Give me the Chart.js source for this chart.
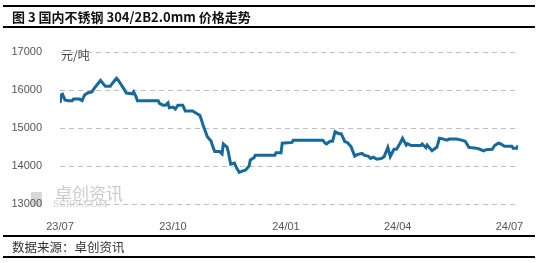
<!DOCTYPE html>
<html>
<head>
<meta charset="utf-8">
<script src="https://cdn.jsdelivr.net/npm/chart.js@4"></script>
<style>
    html, body { margin: 0; padding: 0; background: #fff; }
    #wrap { position: relative; width: 548px; height: 263px; overflow: hidden; }
    #chart { position: absolute; left: 0; top: 0; }
    .rule { position: absolute; left: 3px; width: 532px; height: 2px; background: #000; }
    .txt { position: absolute; left: 12px; white-space: nowrap; font-family: "Noto Sans CJK SC", sans-serif; }
</style>
</head>
<body>
<div id="wrap">
    <canvas id="chart" width="548" height="263"></canvas>
    <div class="rule" style="top:5px"></div>
    <div class="txt" style="top:7px; font-size:13px; font-weight:bold; color:#111;">图 3 国内不锈钢 304/2B2.0mm 价格走势</div>
    <div class="rule" style="top:26px"></div>
    <div class="rule" style="top:235px"></div>
    <div class="txt" style="top:237px; font-size:12.5px; color:#333;">数据来源：卓创资讯</div>
    <div class="rule" style="top:256px"></div>
</div>
<script>
// days since 2023-07-01
const dayOffsets = [
    0, 1, 2, 4, 7, 10, 11, 16, 18, 20, 23, 26, 28, 33, 36, 37, 41, 42, 46, 47,
    50, 52, 54, 59, 60, 62, 63, 80, 81, 84, 86, 88, 89, 92, 94, 96, 100, 102, 108, 111,
    114, 117, 120, 123, 124, 126, 130, 132, 133, 136, 137, 139, 142, 144, 146, 149, 151, 154, 155, 158,
    159, 175, 176, 180, 181, 189, 190, 214, 216, 217, 220, 222, 224, 227, 229, 232, 234, 237, 240, 242,
    246, 248, 251, 253, 255, 258, 262, 264, 267, 269, 272, 274, 277, 279, 282, 283, 286, 294, 295, 298,
    299, 303, 307, 309, 311, 315, 317, 323, 327, 330, 333, 339, 342, 345, 347, 352, 354, 357, 359, 362,
    368, 369, 372, 373
];

// 304/2B 2.0mm price, yuan/ton
const prices = [
    15660, 15870, 15890, 15740, 15720, 15720, 15760, 15760, 15720, 15870, 15930, 15950, 16050, 16250, 16130, 16100, 16100, 16150, 16310, 16280,
    16130, 16030, 15920, 15900, 15950, 15820, 15720, 15720, 15650, 15600, 15600, 15660, 15530, 15550, 15500, 15600, 15600, 15450, 15450, 15390,
    15330, 15030, 14770, 14660, 14550, 14380, 14380, 14320, 14580, 14500, 14380, 14050, 14080, 13940, 13830, 13870, 13890, 14000, 14160, 14220,
    14280, 14280, 14350, 14350, 14600, 14620, 14680, 14680, 14600, 14580, 14650, 14650, 14900, 14850, 14850, 14640, 14620, 14510, 14260, 14300,
    14330, 14280, 14260, 14200, 14230, 14180, 14200, 14250, 14490, 14250, 14440, 14440, 14600, 14730, 14550, 14590, 14540, 14540, 14580, 14480,
    14550, 14400, 14500, 14730, 14720, 14680, 14710, 14710, 14680, 14650, 14490, 14470, 14440, 14400, 14430, 14440, 14540, 14600, 14580, 14520,
    14520, 14470, 14470, 14540
];

// x-axis month ticks
const tickDays = [0, 92, 184, 275, 366];
const tickLabels = ['23/07', '23/10', '24/01', '24/04', '24/07'];

const yTicks = [13000, 14000, 15000, 16000, 17000];
const unitLabel = '元/吨';

// watermark + dashed gridlines go under the axes, unit label on top
const decorPlugin = {
    id: 'decor',
    beforeDraw(chart) {
        const ctx = chart.ctx;
        const area = chart.chartArea;
        const yScale = chart.scales.y;
        ctx.save();
        // watermark
        ctx.fillStyle = '#d8d8d8';
        ctx.fillRect(31, 192, 11, 14);
        ctx.fillStyle = '#cccccc';
        ctx.font = '17px "Noto Sans CJK SC"';
        ctx.textBaseline = 'middle';
        ctx.textAlign = 'left';
        ctx.fillText('卓创资讯', 55, 194);
        ctx.font = '9px "DejaVu Serif"';
        ctx.fillText('SCI99.COM', 53, 205);
        // dashed horizontal gridlines
        ctx.strokeStyle = '#c0c0c0';
        ctx.lineWidth = 1;
        ctx.setLineDash([5, 4]);
        yTicks.forEach(v => {
            const y = Math.round(yScale.getPixelForValue(v)) + 0.5;
            ctx.beginPath();
            ctx.moveTo(area.left, y);
            ctx.lineTo(area.right, y);
            ctx.stroke();
        });
        ctx.restore();
    },
    afterDatasetsDraw(chart) {
        const ctx = chart.ctx;
        const area = chart.chartArea;
        ctx.save();
        ctx.fillStyle = '#444';
        ctx.font = '12px "Noto Sans CJK SC"';
        ctx.textBaseline = 'middle';
        ctx.fillText(unitLabel, area.left + 1, area.top + 3);
        ctx.restore();
    }
};

const ctx = document.getElementById('chart').getContext('2d');

new Chart(ctx, {
    type: 'line',
    data: {
        datasets: [{
            data: dayOffsets.map((d, i) => ({ x: d, y: prices[i] })),
            borderColor: '#17699a',
            borderWidth: 3,
            pointRadius: 0,
            tension: 0,
            fill: false
        }]
    },
    options: {
        responsive: false,
        animation: false,
        layout: {
            padding: { left: 0, right: 30, top: 52, bottom: 0 }
        },
        plugins: {
            legend: { display: false },
            tooltip: { enabled: false }
        },
        scales: {
            x: {
                type: 'linear',
                min: 0,
                max: 373,
                afterBuildTicks: scale => {
                    scale.ticks = tickDays.map(v => ({ value: v }));
                },
                afterFit: scale => { scale.height = 59; },
                ticks: {
                    autoSkip: false,
                    maxRotation: 0,
                    padding: 8,
                    color: '#555',
                    font: { family: 'Liberation Sans', size: 11 },
                    callback: (value) => {
                        const i = tickDays.indexOf(value);
                        return i >= 0 ? tickLabels[i] : '';
                    }
                },
                grid: { display: false },
                border: { display: false }
            },
            y: {
                min: 13000,
                max: 17000,
                afterBuildTicks: scale => {
                    scale.ticks = yTicks.map(v => ({ value: v }));
                },
                afterFit: scale => { scale.width = 60; },
                ticks: {
                    padding: 10,
                    color: '#555',
                    font: { family: 'Liberation Sans', size: 11 },
                    callback: value => String(value)
                },
                // gridlines are drawn dashed by the decor plugin
                grid: { display: false },
                border: { display: false }
            }
        }
    },
    plugins: [decorPlugin]
});
</script>
</body>
</html>
